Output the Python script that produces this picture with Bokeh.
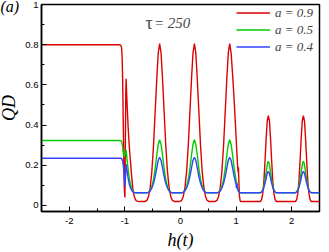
from bokeh.plotting import figure
from bokeh.models import Range1d, FixedTicker, Label, Legend, LegendItem, ColumnDataSource
from bokeh.embed import file_html
from bokeh.resources import INLINE

# ---------------- data ----------------
red_x = [-2.5, -1.1, -1.075, -1.06, -1.05, -1.04, -1.03, -1.02, -1.01, -1.0, -0.992, -0.984, -0.978, -0.97,
         -0.96, -0.94, -0.92, -0.90, -0.88, -0.86, -0.84, -0.82, -0.80, -0.78, -0.70, -0.635,
         -0.605, -0.575, -0.545, -0.515, -0.485, -0.455, -0.425, -0.40, -0.375, -0.35, -0.325, -0.295,
         -0.265, -0.235, -0.205, -0.175, -0.145, -0.115,
         -0.01, 0.02, 0.05, 0.08, 0.11, 0.14, 0.17, 0.20, 0.225, 0.25, 0.275, 0.30, 0.33, 0.36, 0.39,
         0.42, 0.45, 0.48, 0.51,
         0.625, 0.655, 0.685, 0.715, 0.745, 0.775, 0.805, 0.835, 0.86, 0.885, 0.91, 0.94, 0.97, 1.0,
         1.02, 1.035, 1.042, 1.05, 1.06, 1.075, 1.09,
         1.44, 1.46, 1.48, 1.50, 1.52, 1.54, 1.56, 1.58, 1.60, 1.62, 1.64, 1.66, 1.68, 1.70, 1.72,
         2.07, 2.09, 2.11, 2.13, 2.15, 2.17, 2.19, 2.21, 2.23, 2.25, 2.27, 2.29, 2.31, 2.33, 2.35, 2.5]
red_y = [0.8, 0.8, 0.798, 0.785, 0.74, 0.62, 0.42, 0.22, 0.08, 0.04, 0.3, 0.56, 0.63, 0.57,
         0.50, 0.38, 0.29, 0.22, 0.15, 0.09, 0.055, 0.035, 0.025, 0.021, 0.02, 0.02,
         0.025, 0.045, 0.09, 0.17, 0.30, 0.47, 0.64, 0.76, 0.805, 0.76, 0.64, 0.47,
         0.30, 0.17, 0.09, 0.045, 0.025, 0.02,
         0.02, 0.025, 0.045, 0.09, 0.17, 0.30, 0.47, 0.64, 0.76, 0.805, 0.76, 0.64, 0.47, 0.30, 0.17,
         0.09, 0.045, 0.025, 0.02,
         0.02, 0.025, 0.045, 0.09, 0.17, 0.30, 0.47, 0.64, 0.76, 0.805, 0.76, 0.64, 0.50, 0.34,
         0.23, 0.165, 0.19, 0.12, 0.045, 0.021, 0.02,
         0.02, 0.03, 0.06, 0.12, 0.22, 0.33, 0.42, 0.447, 0.42, 0.33, 0.22, 0.12, 0.06, 0.03, 0.02,
         0.02, 0.03, 0.06, 0.12, 0.22, 0.33, 0.42, 0.447, 0.42, 0.33, 0.22, 0.12, 0.06, 0.03, 0.02, 0.02]

green_x = [-2.5, -1.08, -1.06, -1.045, -1.03, -1.015, -1.0, -0.988, -0.978, -0.965, -0.95, -0.935,
           -0.92, -0.90, -0.88, -0.86, -0.84, -0.82, -0.80, -0.605,
           -0.575, -0.545, -0.515, -0.485, -0.455, -0.425, -0.40, -0.375, -0.35, -0.325, -0.295,
           -0.265, -0.235, -0.205, -0.175, -0.145,
           0.02, 0.05, 0.08, 0.11, 0.14, 0.17, 0.20, 0.225, 0.25, 0.275, 0.30, 0.33, 0.36, 0.39, 0.42,
           0.45, 0.48,
           0.655, 0.685, 0.715, 0.745, 0.775, 0.805, 0.835, 0.86, 0.885, 0.91, 0.935, 0.965, 0.99,
           1.0, 1.01, 1.02, 1.03, 1.045, 1.06, 1.08,
           1.43, 1.46, 1.49, 1.52, 1.55, 1.565, 1.58, 1.595, 1.61, 1.64, 1.67, 1.70, 1.73,
           2.06, 2.09, 2.12, 2.15, 2.18, 2.195, 2.21, 2.225, 2.24, 2.27, 2.30, 2.33, 2.36, 2.5]
green_y = [0.323, 0.323, 0.32, 0.30, 0.265, 0.24, 0.25, 0.272, 0.276, 0.24, 0.2, 0.165,
           0.135, 0.105, 0.085, 0.073, 0.067, 0.064, 0.063, 0.063,
           0.066, 0.075, 0.095, 0.13, 0.185, 0.255, 0.305, 0.327, 0.305, 0.255, 0.185,
           0.13, 0.095, 0.075, 0.066, 0.063,
           0.063, 0.066, 0.075, 0.095, 0.13, 0.185, 0.255, 0.305, 0.327, 0.305, 0.255, 0.185, 0.13,
           0.095, 0.075, 0.066, 0.063,
           0.063, 0.066, 0.075, 0.095, 0.13, 0.185, 0.255, 0.305, 0.327, 0.305, 0.255, 0.185, 0.14,
           0.125, 0.115, 0.1, 0.08, 0.07, 0.065, 0.063,
           0.063, 0.068, 0.085, 0.125, 0.185, 0.21, 0.22, 0.21, 0.185, 0.125, 0.085, 0.068, 0.063,
           0.063, 0.068, 0.085, 0.125, 0.185, 0.21, 0.22, 0.21, 0.185, 0.125, 0.085, 0.068, 0.063, 0.063]

blue_x = [-2.5, -1.07, -1.055, -1.04, -1.025, -1.012, -1.003, -0.997, -0.99, -0.983, -0.976, -0.965,
          -0.95, -0.935, -0.92, -0.90, -0.88, -0.86, -0.84, -0.82, -0.605,
          -0.575, -0.545, -0.515, -0.485, -0.455, -0.425, -0.40, -0.375, -0.35, -0.325, -0.295,
          -0.265, -0.235, -0.205, -0.175, -0.145,
          0.02, 0.05, 0.08, 0.11, 0.14, 0.17, 0.20, 0.225, 0.25, 0.275, 0.30, 0.33, 0.36, 0.39, 0.42,
          0.45, 0.48,
          0.655, 0.685, 0.715, 0.745, 0.775, 0.805, 0.835, 0.86, 0.885, 0.91, 0.935, 0.965, 0.99,
          1.0, 1.008, 1.015, 1.025, 1.04, 1.06, 1.08,
          1.43, 1.46, 1.49, 1.52, 1.55, 1.565, 1.58, 1.595, 1.61, 1.64, 1.67, 1.70, 1.73,
          2.06, 2.09, 2.12, 2.15, 2.18, 2.195, 2.21, 2.225, 2.24, 2.27, 2.30, 2.33, 2.36, 2.5]
blue_y = [0.235, 0.235, 0.232, 0.22, 0.19, 0.14, 0.105, 0.095, 0.14, 0.195, 0.205, 0.18,
          0.15, 0.125, 0.105, 0.088, 0.076, 0.069, 0.065, 0.063, 0.063,
          0.065, 0.072, 0.087, 0.11, 0.145, 0.19, 0.225, 0.24, 0.225, 0.19, 0.145,
          0.11, 0.087, 0.072, 0.065, 0.063,
          0.063, 0.065, 0.072, 0.087, 0.11, 0.145, 0.19, 0.225, 0.24, 0.225, 0.19, 0.145, 0.11,
          0.087, 0.072, 0.065, 0.063,
          0.063, 0.065, 0.072, 0.087, 0.11, 0.145, 0.19, 0.225, 0.24, 0.225, 0.19, 0.145, 0.115,
          0.105, 0.085, 0.11, 0.09, 0.072, 0.065, 0.063,
          0.063, 0.067, 0.08, 0.11, 0.148, 0.163, 0.17, 0.163, 0.148, 0.11, 0.08, 0.067, 0.063,
          0.063, 0.067, 0.08, 0.11, 0.148, 0.163, 0.17, 0.163, 0.148, 0.11, 0.08, 0.067, 0.063, 0.063]

series_labels = ["a = 0.9", "a = 0.5", "a = 0.4"]
series_colors = ["#dd0000", "#00cc00", "#3344ff"]

x_ticks = [-2, -1, 0, 1, 2]
x_tick_labels = ["-2", "-1", "0", "1", "2"]
x_minor = [-2.5, -1.5, -0.5, 0.5, 1.5, 2.5]
y_ticks = [0, 0.2, 0.4, 0.6, 0.8, 1.0]
y_tick_labels = ["0", "0.2", "0.4", "0.6", "0.8", "1"]
y_minor = [0.1, 0.3, 0.5, 0.7, 0.9]

serif = "Liberation Serif"

# ---------------- figure ----------------
p = figure(frame_width=278, frame_height=207,
           x_range=Range1d(-2.5, 2.5), y_range=Range1d(-0.03, 1.0),
           output_backend="svg", toolbar_location=None,
           min_border_left=43, min_border_right=6, min_border_top=3, min_border_bottom=38,
           styles={"margin": "1px -4px -4px -4px"})
p.grid.visible = False
p.outline_line_color = "black"
p.outline_line_width = 1.5
p.background_fill_color = "white"
p.border_fill_color = "white"

# panel tag "(a)" drawn through the title, pulled beside the frame
p.title.text = "(a)"
p.title.align = "left"
p.title.offset = -41
p.title.standoff = -20
p.title.text_font = serif
p.title.text_font_style = "italic"
p.title.text_font_size = "16px"
p.title.text_color = "black"

for ax in (p.xaxis[0], p.yaxis[0]):
    ax.axis_line_color = "black"
    ax.axis_line_width = 1.5
    ax.major_tick_in = 5
    ax.major_tick_out = 0
    ax.minor_tick_in = 3
    ax.minor_tick_out = 0
    ax.major_tick_line_width = 1
    ax.minor_tick_line_width = 1
    ax.major_label_text_font = "Liberation Sans"
    ax.major_label_text_font_size = "9.5px"
    ax.major_label_text_color = "black"
    ax.axis_label_text_font = serif
    ax.axis_label_text_font_style = "italic"
    ax.axis_label_text_font_size = "18px"
    ax.axis_label_text_color = "black"

p.xaxis[0].ticker = FixedTicker(ticks=x_ticks, minor_ticks=x_minor)
p.xaxis[0].major_label_overrides = {t: l for t, l in zip(x_ticks, x_tick_labels)}
p.xaxis[0].major_label_standoff = 6
p.xaxis[0].axis_label = "h(t)"
p.xaxis[0].axis_label_standoff = 3
p.yaxis[0].ticker = FixedTicker(ticks=y_ticks, minor_ticks=y_minor)
p.yaxis[0].major_label_overrides = {t: l for t, l in zip(y_ticks, y_tick_labels)}
p.yaxis[0].major_label_standoff = 3
p.yaxis[0].axis_label = "QD"
p.yaxis[0].axis_label_standoff = 3

renderers = []
for xs, ys, c in ((red_x, red_y, series_colors[0]), (green_x, green_y, series_colors[1]),
                  (blue_x, blue_y, series_colors[2])):
    src = ColumnDataSource(dict(x=xs, y=ys))
    renderers.append(p.line("x", "y", source=src, line_color=c, line_width=1.4))

legend = Legend(items=[LegendItem(label=l, renderers=[r]) for l, r in zip(series_labels, renderers)],
                location="top_right", label_text_font=serif,
                label_text_font_style="italic", label_text_font_size="13px",
                glyph_width=34, glyph_height=17, label_height=17, label_width=44,
                label_standoff=5, spacing=0, padding=1, margin=0,
                border_line_color=None, background_fill_alpha=0)
p.add_layout(legend)

p.add_layout(Label(x=-0.629, y=0.910, text="τ", text_font=serif,
                   text_font_size="18px", text_align="left", text_baseline="alphabetic"))
p.add_layout(Label(x=-0.477, y=0.910, text="= 250", text_font=serif, text_font_style="italic",
                   text_font_size="15px", text_align="left", text_baseline="alphabetic"))

open("out.html", "w").write(file_html(p, INLINE))
